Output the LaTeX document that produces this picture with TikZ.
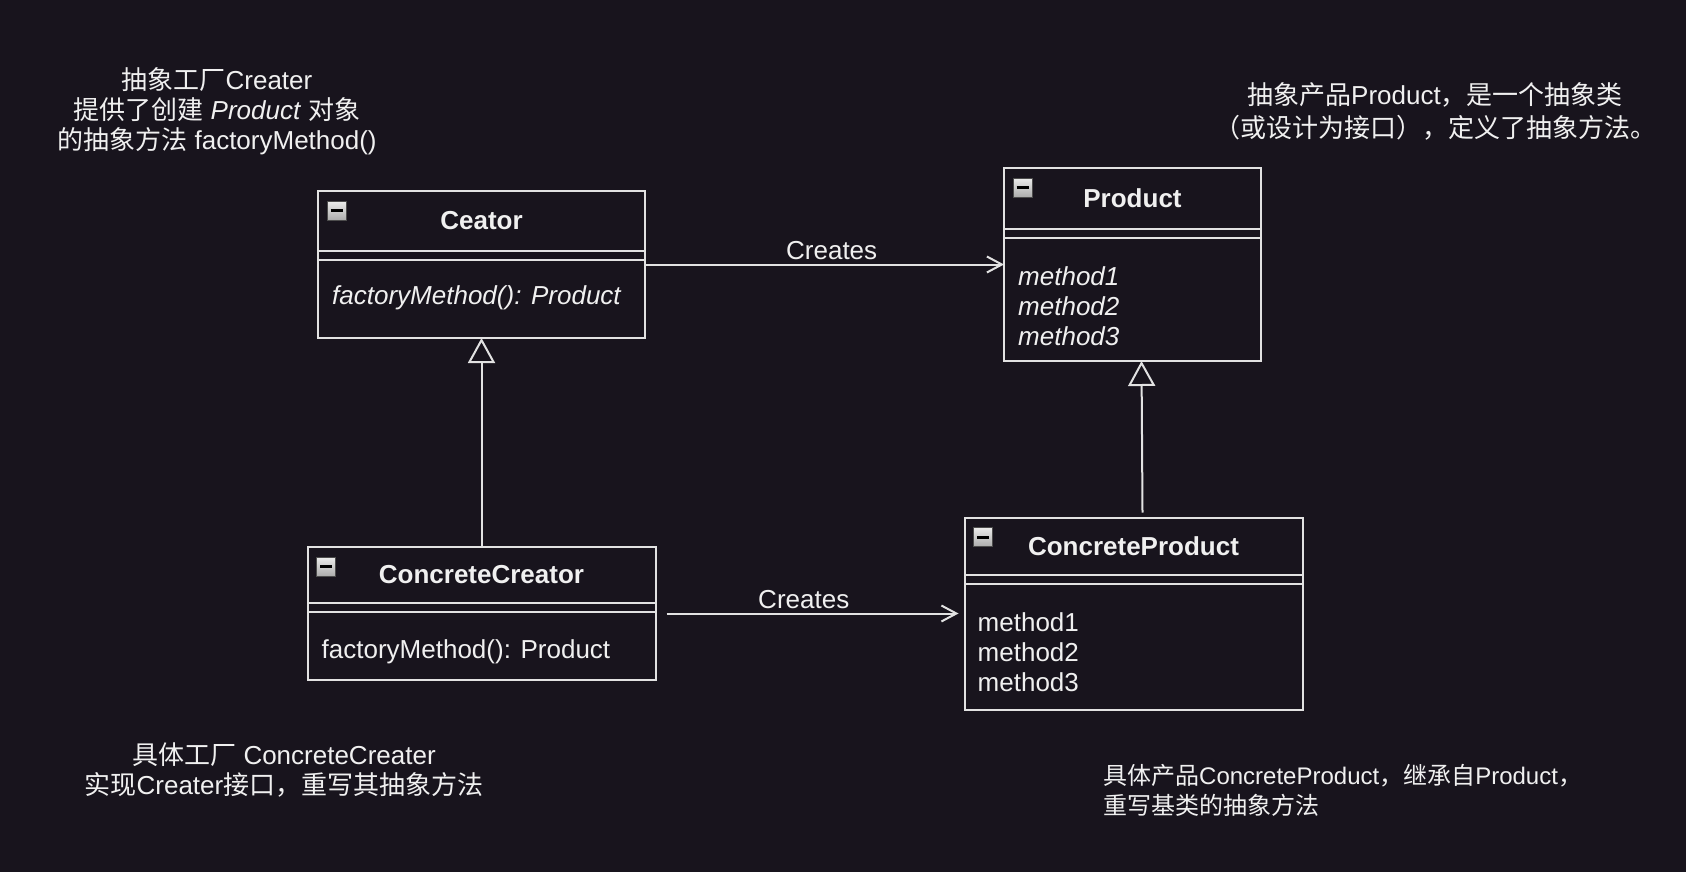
\documentclass[tikz,border=0pt]{standalone}
\usepackage{fontspec}
\setmainfont{Liberation Sans}
\newfontfamily\cjk{Noto Sans CJK SC}
\usetikzlibrary{arrows.meta, positioning}
\definecolor{bg}{HTML}{18141D}
\definecolor{fg}{HTML}{F0F0F0}
\definecolor{edge}{HTML}{E2E2E2}

\newcommand{\classparts}[3]{%
  \draw[edge, line width=2pt] ([yshift=-#2]#1.north west) -- ([yshift=-#2]#1.north east);
  \draw[edge, line width=2pt] ([yshift=-#2-9pt]#1.north west) -- ([yshift=-#2-9pt]#1.north east);
  \shadedraw[top color=gray!15, bottom color=gray!65, draw=gray!60!black, line width=1pt]
    ([xshift=9pt, yshift=-10pt]#1.north west) rectangle ++(19pt,-19pt);
  \draw[black, line width=3pt] ([xshift=12.5pt, yshift=-19.5pt]#1.north west) -- ++(12pt,0pt);
  \node[hd] (#1title) at ([yshift=-#2/2]#1.north) {#3};
}

\begin{document}
\begin{tikzpicture}[
  x=1pt, y=-1pt,
  font=\fontsize{26}{30}\selectfont,
  color=fg,
  umlbox/.style={draw=edge, line width=2pt, fill=bg, inner sep=0pt, outer sep=0pt},
  hd/.style={font=\fontsize{26}{30}\selectfont\bfseries},
  meth/.style={anchor=west, align=left, inner sep=0pt},
  methi/.style={meth, font=\fontsize{26}{30}\selectfont\itshape},
  note/.style={align=center},
  link/.style={draw=edge, line width=2pt, -{Straight Barb[length=15pt, width=16pt]}},
  inherit/.style={draw=edge, line width=2pt, -{Triangle[open, length=25pt, width=27pt]}},
]
  \fill[bg] (0,0) rectangle (1686,872);

  \node[umlbox, minimum width=327pt, minimum height=147pt] (ceator) at (481.5,264.5) {};
  \node[umlbox, minimum width=257pt, minimum height=193pt, right=359pt of ceator] (product) {};
  \node[umlbox, minimum width=348pt, minimum height=133pt, below=209pt of ceator] (cc) {};
  \node[umlbox, minimum width=338pt, minimum height=192pt, right=309pt of cc] (cp) {};

  \classparts{ceator}{60pt}{Ceator}
  \classparts{product}{61pt}{Product}
  \classparts{cc}{56pt}{ConcreteCreator}
  \classparts{cp}{57pt}{ConcreteProduct}

  \node[methi] (ceatorm) at ([xshift=14pt, yshift=-107pt]ceator.north west) {factoryMethod(): Product};
  \node[methi] (productm) at ([xshift=14pt, yshift=-138pt]product.north west) {method1\\method2\\method3};
  \node[meth] (ccm) at ([xshift=14pt, yshift=-105pt]cc.north west) {factoryMethod(): Product};
  \node[meth] (cpm) at ([xshift=13pt, yshift=-135pt]cp.north west) {method1\\method2\\method3};

  \draw[link] (ceator.east) -- (ceator.east -| product.west) node[pos=0.52, above] (createsa) {Creates};
  \draw[link] ([xshift=11pt]cc.east) -- ([xshift=-6pt]cc.east -| cp.west) node[pos=0.47, above] (createsb) {Creates};
  \draw[inherit] (cc.north) -- (ceator.south);
  \draw[inherit] ([xshift=9pt, yshift=5pt]cp.north) -- ([xshift=9pt]product.south);

  \node[note] (creatornote) at (217,111) {{\cjk 抽象工厂}Creater\\{\cjk 提供了创建} \textit{Product} {\cjk 对象}\\{\cjk 的抽象方法} factoryMethod()};
  \node[note, font=\fontsize{26}{33}\selectfont] (productnote) at (1435,111.5) {{\cjk 抽象产品}Product{\cjk ，是一个抽象类}\\{\cjk （或设计为接口），定义了抽象方法。}};
  \node[note] (ccnote) at (284,770) {{\cjk 具体工厂} ConcreteCreater\\{\cjk 实现}Creater{\cjk 接口，重写其抽象方法}};
  \node[note, anchor=west, align=left, inner sep=0pt, font=\fontsize{24}{30}\selectfont] (cpnote) at (1103,790) {{\cjk 具体产品}ConcreteProduct{\cjk ，继承自}Product{\cjk ，}\\{\cjk 重写基类的抽象方法}};
\end{tikzpicture}
\end{document}
